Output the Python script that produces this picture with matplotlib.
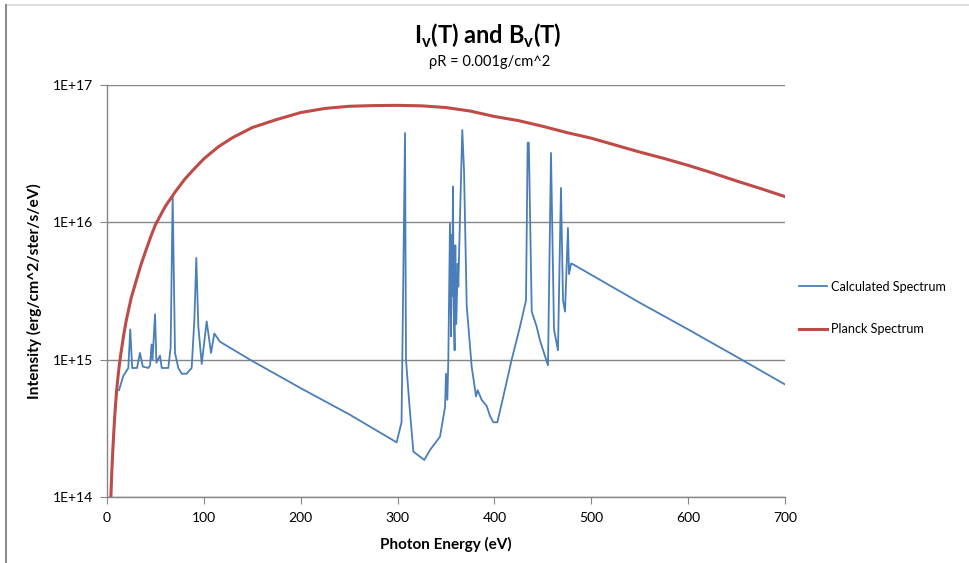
import matplotlib
matplotlib.use("Agg")
import matplotlib.pyplot as plt
from matplotlib.lines import Line2D
from matplotlib.ticker import FixedLocator, NullLocator

plt.rcParams['font.family'] = ['Lato', 'DejaVu Sans']
plt.rcParams['mathtext.fontset'] = 'custom'
plt.rcParams['mathtext.rm'] = 'Lato'
plt.rcParams['mathtext.bf'] = 'Lato:bold'

# calculated emission spectrum, photon energy (eV) vs intensity
calc_energy = [12.4, 16.8, 22, 24, 26, 31, 34, 37, 42.7, 44.5, 46, 47, 49.6, 51,
               54.7, 56.5, 63.3, 65.7, 67.8, 70.2, 73.6, 77.1, 82.3, 87.4, 90.2,
               92.2, 94.3, 97.8, 102.9, 107.4, 110.8, 116.7, 147.6, 200, 250, 299,
               304.1, 307.7, 308.7, 312.1, 316.3, 327.6, 333.5, 343.8, 349, 350,
               351.4, 352.4, 354.1, 355.2, 355.9, 356.5, 357.2, 357.9, 358.9,
               359.6, 360.6, 362.1, 362.7, 364.4, 366.8, 368.6, 371.4, 376.5, 381,
               382.7, 386.8, 392, 395.4, 398.9, 403, 409.2, 417.8, 426.4, 432.6,
               434.3, 435.5, 438.5, 443.6, 447, 455.3, 458.4, 461.5, 465.6, 468.7,
               470.8, 472.9, 475.9, 477, 479.1, 480, 550, 600, 650, 700]
calc_intensity = [6.0e14, 7.6e14, 8.7e14, 1.66e15, 8.7e14, 8.7e14, 1.12e15, 8.9e14,
                  8.7e14, 9.1e14, 1.29e15, 1.0e15, 2.14e15, 9.5e14, 1.07e15, 8.7e14,
                  8.7e14, 1.23e15, 1.58e16, 1.12e15, 8.7e14, 7.9e14, 7.9e14, 8.7e14,
                  1.95e15, 5.5e15, 1.74e15, 9.3e14, 1.9e15, 1.12e15, 1.55e15, 1.35e15,
                  1.0e15, 6.2e14, 4.0e14, 2.5e14, 3.5e14, 4.47e16, 1.0e15, 4.8e14,
                  2.14e14, 1.86e14, 2.2e14, 2.75e14, 4.5e14, 7.9e14, 5.1e14, 1.0e15,
                  9.8e15, 1.48e15, 8.1e15, 2.9e15, 1.82e16, 2.45e15, 1.17e15, 6.8e15,
                  1.82e15, 5.0e15, 3.4e15, 1.05e16, 4.7e16, 2.4e16, 2.45e15, 8.9e14,
                  5.4e14, 6.0e14, 5.1e14, 4.6e14, 3.9e14, 3.5e14, 3.5e14, 5.4e14,
                  1.0e15, 1.74e15, 2.7e15, 3.8e16, 3.8e16, 2.24e15, 1.74e15, 1.38e15,
                  9.1e14, 3.2e16, 1.66e15, 1.17e15, 1.78e16, 2.7e15, 2.24e15, 9.1e15,
                  4.2e15, 5.0e15, 5.0e15, 2.6e15, 1.66e15, 1.05e15, 6.6e14]

# blackbody (Planck) spectrum
planck_energy = [4, 5, 6, 7, 8, 9, 10, 12, 14, 17, 20, 25, 30, 35, 40, 45, 50, 60,
                 70, 80, 90, 100, 115, 130, 150, 175, 200, 225, 250, 275, 300, 325,
                 350, 375, 400, 425, 450, 475, 500, 525, 550, 575, 600, 625, 650,
                 675, 700]
planck_intensity = [1.0e14, 1.55e14, 2.19e14, 2.95e14, 3.89e14, 4.9e14, 6.03e14,
                    8.3e14, 1.07e15, 1.48e15, 1.95e15, 2.82e15, 3.72e15, 4.9e15,
                    6.2e15, 7.8e15, 9.6e15, 1.3e16, 1.65e16, 2.05e16, 2.45e16, 2.9e16,
                    3.55e16, 4.15e16, 4.9e16, 5.6e16, 6.3e16, 6.75e16, 7.0e16, 7.08e16,
                    7.11e16, 7.05e16, 6.85e16, 6.46e16, 5.9e16, 5.5e16, 5.0e16, 4.5e16,
                    4.1e16, 3.65e16, 3.25e16, 2.92e16, 2.6e16, 2.29e16, 2.0e16, 1.76e16,
                    1.54e16]

x_ticks = [0, 100, 200, 300, 400, 500, 600, 700]
y_ticks = [1e14, 1e15, 1e16, 1e17]
y_labels = ['1E+14', '1E+15', '1E+16', '1E+17']

grid_c = '#868686'

fig = plt.figure(figsize=(9.7, 5.63), dpi=100)
ax = fig.add_axes([107 / 970, 1 - 497 / 563, 678 / 970, 412 / 563])

ax.plot(calc_energy, calc_intensity, color='#4A7EBB', lw=1.3,
        label='Calculated Spectrum', zorder=3)
ax.plot(planck_energy, planck_intensity, color='#BE4B48', lw=2.2,
        label='Planck Spectrum', zorder=4)

ax.set_yscale('log')
ax.set_xlim(0, 700)
ax.set_ylim(1e14, 1e17)
ax.xaxis.set_major_locator(FixedLocator(x_ticks))
ax.yaxis.set_major_locator(FixedLocator(y_ticks))
ax.yaxis.set_minor_locator(NullLocator())
ax.set_yticklabels(y_labels)
ax.grid(axis='y', color=grid_c, lw=1.0)
ax.set_axisbelow(True)

for side in ('top', 'right'):
    ax.spines[side].set_visible(False)
for side in ('left', 'bottom'):
    ax.spines[side].set_color(grid_c)
    ax.spines[side].set_linewidth(1.0)
ax.tick_params(axis='both', direction='out', length=5, color=grid_c,
               labelsize=10, labelcolor='black')
ax.tick_params(axis='x', pad=6)
ax.tick_params(axis='y', pad=5)

ax.set_xlabel('Photon Energy (eV)', fontsize=11, fontweight='bold', labelpad=9)
ax.set_ylabel('Intensity (erg/cm^2/ster/s/eV)', fontsize=11.2, fontweight='bold',
              labelpad=8)

fig.text(0.503, 1 - 36 / 563, r'I$_\mathbf{v}$(T) and B$_\mathbf{v}$(T)',
         ha='center', va='center', fontsize=17, fontweight='bold')
fig.text(0.505, 1 - 62 / 563, 'ρR = 0.001g/cm^2', ha='center', va='center',
         fontsize=10.5)

fig.legend(loc='center left', bbox_to_anchor=(788 / 970, 1 - 308 / 563),
           frameon=False, fontsize=9.1, handlelength=2.2, handletextpad=0.3,
           labelspacing=2.4)

# chart frame edges
fig.add_artist(Line2D([6 / 970, 1], [1 - 5 / 563] * 2, color='#d9d9d9', lw=1.2,
                      transform=fig.transFigure))
fig.add_artist(Line2D([6.5 / 970] * 2, [0, 1 - 5 / 563], color='#8c8c8c', lw=1.5,
                      transform=fig.transFigure))

fig.savefig('out.png', dpi=100)
